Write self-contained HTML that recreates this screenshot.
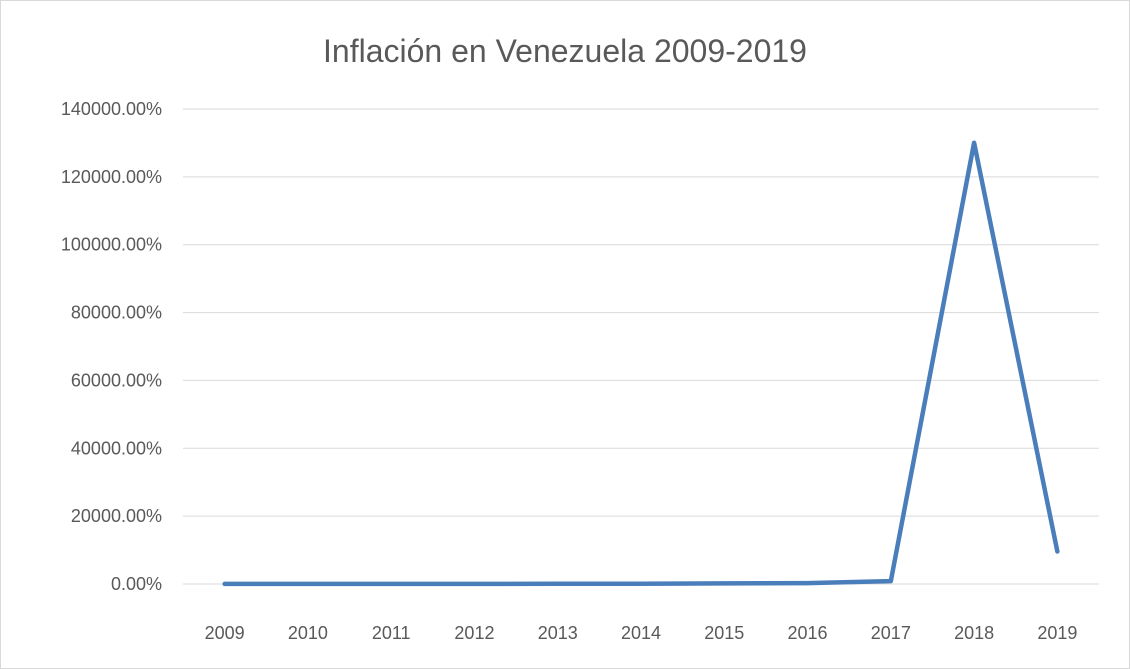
<!DOCTYPE html>
<html><head><meta charset="utf-8"><style>
html,body{margin:0;padding:0;background:#fff;}
svg{display:block;font-family:"Liberation Sans",sans-serif;}
</style></head><body>
<svg id="chart" width="1130" height="669">
<rect x="0.5" y="0.5" width="1129" height="668" fill="#fff" stroke="#d9d9d9"/>
<text x="565" y="62" text-anchor="middle" font-size="32" fill="#595959">Inflación en Venezuela 2009-2019</text>
<g id="grid"></g><g id="ylabels"></g><g id="xlabels"></g><g id="series"></g>
</svg>
<script>
const categories=["2009","2010","2011","2012","2013","2014","2015","2016","2017","2018","2019"];
const inflation=[27,28,29,20,56,68,180,274,863,130060,9585];
const yTicks=[0,20000,40000,60000,80000,100000,120000,140000];
const yTickLabels=["0.00%","20000.00%","40000.00%","60000.00%","80000.00%","100000.00%","120000.00%","140000.00%"];
const NS="http://www.w3.org/2000/svg";
const L=183,R=1099,T=109,B=584,yMax=140000;
const y=v=>B-(v/yMax)*(B-T);
const step=(R-L)/categories.length;
const x=i=>L+step*(i+0.5);
function mk(tag,attrs,parent){const e=document.createElementNS(NS,tag);for(const k in attrs)e.setAttribute(k,attrs[k]);parent.appendChild(e);return e;}
const g=document.getElementById('grid'),yl=document.getElementById('ylabels'),xl=document.getElementById('xlabels'),s=document.getElementById('series');
yTicks.forEach((v,i)=>{
 const ln=mk('line',{x1:L,x2:R,y1:y(v),y2:y(v),stroke:'#d9d9d9','stroke-width':1},g);
 
 
 const t=mk('text',{x:162,y:y(v)+6,'text-anchor':'end','font-size':18,fill:'#595959'},yl);
 t.textContent=yTickLabels[i];
 
 
});
categories.forEach((c,i)=>{
 const t=mk('text',{x:x(i),y:639,'text-anchor':'middle','font-size':18,fill:'#595959'},xl);
 t.textContent=c;
 
 
});
const pts=inflation.map((v,i)=>x(i)+','+y(v)).join(' ');
const pl=mk('polyline',{points:pts,fill:'none',stroke:'#4a7ebb','stroke-width':4.5,'stroke-linejoin':'round','stroke-linecap':'round'},s);


</script>
</body></html>
